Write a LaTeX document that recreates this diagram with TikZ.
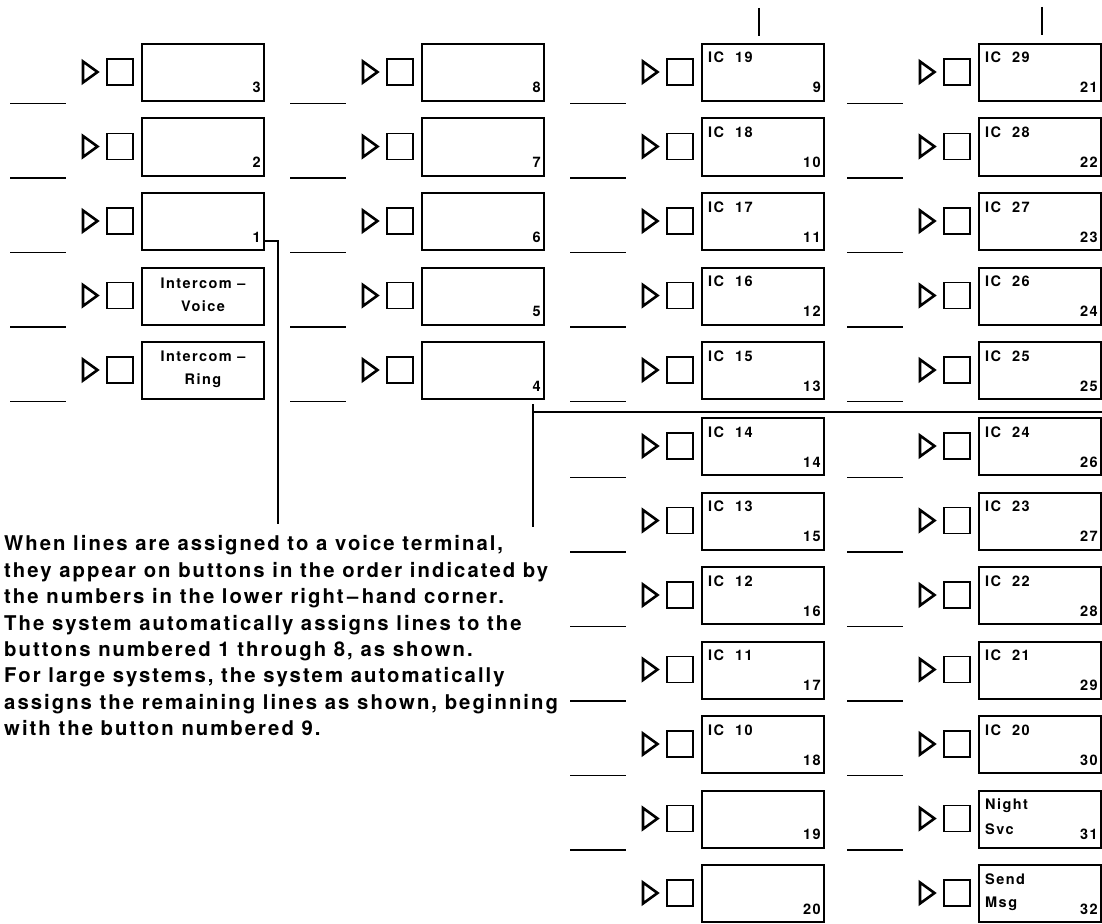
\documentclass[tikz,border=0pt]{standalone}
\usepackage{fontspec}
\setmainfont{TeX Gyre Heros}[LetterSpace=10]
\begin{document}
\begin{tikzpicture}[x=1pt,y=-1pt,
  keybox/.style={draw, line width=2pt, minimum width=122pt, minimum height=57pt, inner sep=0pt},
  lamp/.style={draw, line width=1.4pt, minimum size=26pt, inner sep=0pt},
  ledtri/.style={line width=2.6pt, line join=miter},
  slot/.style={line width=1.5pt},
  wire/.style={line width=2pt},
  numtxt/.style={font=\fontsize{14.5}{14.5}\selectfont\bfseries, inner sep=0pt, anchor=base east},
  keytxt/.style={font=\fontsize{14.5}{14.5}\selectfont\bfseries, inner sep=0pt, anchor=base west},
  midtxt/.style={font=\fontsize{14.5}{23}\selectfont\bfseries, inner sep=0pt, align=center},
  note/.style={font=\fontsize{20.3}{26.4}\selectfont\bfseries, inner sep=0pt, align=left, anchor=north west}
]
\useasboundingbox (0,0) rectangle (1102,923);
% one button: #1 name, #2 box left x, #3 top y, #4 number, #5 top-left text, #6 label slot (1/0)
\newcommand\keyrow[6]{%
  \node[keybox] (#1) at ({#2+61},{#3+28.5}) {};
  \node[lamp] (#1L) at ({#2-22},{#3+28}) {};
  \draw[ledtri] ({#2-59},{#3+17.5}) -- ({#2-44.5},{#3+28}) -- ({#2-59},{#3+38.5}) -- cycle;
  \node[numtxt] (#1n) at ({#2+119},{#3+49}) {#4};
  \node[keytxt] (#1t) at ({#2+6},{#3+19}) {#5};
  \ifnum#6=1 \draw[slot] ({#2-132},{#3+59.5}) -- ({#2-76},{#3+59.5});\fi
}
% column 1
\keyrow{k3}{142}{44}{3}{}{1}
\keyrow{k2}{142}{118.5}{2}{}{1}
\keyrow{k1}{142}{193}{1}{}{1}
\keyrow{kiv}{142}{267.5}{}{}{1}
\keyrow{kir}{142}{342}{}{}{1}
\node[midtxt] (ivt) at ([yshift=1pt]kiv.center) {Intercom –\\Voice};
\node[midtxt] (irt) at ([yshift=1pt]kir.center) {Intercom –\\Ring};
% column 2
\keyrow{k8}{422}{44}{8}{}{1}
\keyrow{k7}{422}{118.5}{7}{}{1}
\keyrow{k6}{422}{193}{6}{}{1}
\keyrow{k5}{422}{267.5}{5}{}{1}
\keyrow{k4}{422}{342}{4}{}{1}
% column 3
\keyrow{k9}{702}{44}{9}{IC~~19}{1}
\keyrow{k10}{702}{118.5}{10}{IC~~18}{1}
\keyrow{k11}{702}{193}{11}{IC~~17}{1}
\keyrow{k12}{702}{267.5}{12}{IC~~16}{1}
\keyrow{k13}{702}{342}{13}{IC~~15}{1}
\keyrow{k14}{702}{418}{14}{IC~~14}{1}
\keyrow{k15}{702}{492.5}{15}{IC~~13}{1}
\keyrow{k16}{702}{567}{16}{IC~~12}{1}
\keyrow{k17}{702}{641.5}{17}{IC~~11}{1}
\keyrow{k18}{702}{716}{18}{IC~~10}{1}
\keyrow{k19}{702}{790.5}{19}{}{1}
\keyrow{k20}{702}{865}{20}{}{0}
% column 4
\keyrow{k21}{979}{44}{21}{IC~~29}{1}
\keyrow{k22}{979}{118.5}{22}{IC~~28}{1}
\keyrow{k23}{979}{193}{23}{IC~~27}{1}
\keyrow{k24}{979}{267.5}{24}{IC~~26}{1}
\keyrow{k25}{979}{342}{25}{IC~~25}{1}
\keyrow{k26}{979}{418}{26}{IC~~24}{1}
\keyrow{k27}{979}{492.5}{27}{IC~~23}{1}
\keyrow{k28}{979}{567}{28}{IC~~22}{1}
\keyrow{k29}{979}{641.5}{29}{IC~~21}{1}
\keyrow{k30}{979}{716}{30}{IC~~20}{1}
\keyrow{k31}{979}{790.5}{31}{Night}{1}
\keyrow{k32}{979}{865}{32}{Send}{0}
\node[keytxt] (k31u) at ({979+6},{790.5+44}) {Svc};
\node[keytxt] (k32u) at ({979+6},{865+42}) {Msg};
% connectors
\coordinate (k1end) at (278,524);
\draw[wire] ([yshift=10pt]k1.south east) -| (k1end);
\coordinate (brtop) at (533,404);
\coordinate (brbot) at (533,527);
\coordinate (brright) at (1102,412);
\draw[wire] (brtop) -- (brbot);
\draw[wire] (brtop |- brright) -- (brright);
\coordinate (t3) at (759,8);
\coordinate (t4) at (1042,7);
\draw[wire] (t3) -- ++(0,28);
\draw[wire] (t4) -- ++(0,28);
% note
\node[note] (note) at (4,535.5) {When lines are assigned to a voice terminal,\\
they appear on buttons in the order indicated by\\
the numbers in the lower right\,–\,hand corner.\\
The system automatically assigns lines to the\\
buttons numbered 1 through 8, as shown.\\
For large systems, the system automatically\\
assigns the remaining lines as shown, beginning\\
with the button numbered 9.};
\end{tikzpicture}
\end{document}
